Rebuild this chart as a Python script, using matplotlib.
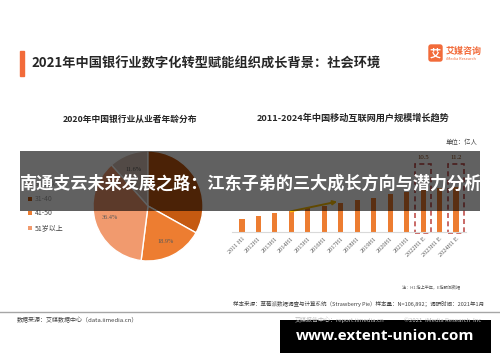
import matplotlib
matplotlib.use('agg')
import matplotlib.pyplot as plt
from matplotlib.patches import Rectangle, FancyBboxPatch
import numpy as np

plt.rcParams['font.family'] = ['Noto Sans CJK SC', 'DejaVu Sans']

# left chart: age distribution of bank employees (2020)
age_groups = ['30岁以下', '31-40', '41-50', '51岁以上']
age_share = [11.6, 33.1, 18.9, 36.4]
age_colors = ['#d8c4b8', '#c55a11', '#ed7d31', '#f19a6e']

# right chart: mobile internet users, 亿人
periods = ['2011 H1', '2012H1', '2013H1', '2014H1', '2015H1', '2016H1', '2017H1',
           '2018H1', '2019H1', '2020H1', '2021H1', '2022H1 E', '2023H1 E', '2024H1 E']
users = [3.18, 3.88, 4.64, 5.27, 5.94, 6.56, 7.24, 7.88, 8.47, 9.6, 10.07, 10.5, 10.9, 11.2]
boxed = ['2022H1 E', '2024H1 E']

W, H = 500, 362
fig = plt.figure(figsize=(5, 3.62), dpi=100)


def px_axes(x0, y0, x1, y1):
    # pixel box with top-left origin -> figure axes
    return fig.add_axes([x0 / W, 1 - y1 / H, (x1 - x0) / W, (y1 - y0) / H])


# ---- pie ----
ax_pie = px_axes(93, 151, 203, 261)
wedges, _, autotexts = ax_pie.pie(
    age_share, colors=age_colors, startangle=90 + age_share[0] * 3.6, counterclock=False,
    autopct='%.1f%%', pctdistance=0.72,
    wedgeprops=dict(edgecolor='white', linewidth=1),
    textprops=dict(fontsize=4.5, color='#595959', family='Liberation Serif'))
ax_pie.set_xlim(-1, 1)
ax_pie.set_ylim(-1, 1)

# ---- bars ----
ax_bar = px_axes(232, 152, 466, 232)
x = np.arange(len(periods))
ax_bar.bar(x, users, width=0.32, color='#ed7d31')
ax_bar.set_xlim(-0.6, 13.6)
ax_bar.set_ylim(0, 20)
ax_bar.set_xticks(x, periods, rotation=45, ha='right', rotation_mode='anchor',
                  fontsize=4.5, color='#595959', family='Liberation Serif')
ax_bar.tick_params(length=0, pad=3)
ax_bar.set_yticks([])
for s in ['top', 'left', 'right']:
    ax_bar.spines[s].set_visible(False)
ax_bar.spines['bottom'].set_color('#d9d9d9')
ax_bar.patch.set_alpha(0)

for p in boxed:
    i = periods.index(p)
    ax_bar.add_patch(Rectangle((i - 0.48, -0.2), 0.96, 17.2, fill=False, ec='#c0504d',
                               lw=1.2, ls=(0, (3, 2)), clip_on=False))
    ax_bar.text(i, 17.9, f'{users[i]}', ha='center', va='bottom', fontsize=4.8,
                color='#843c0c', family='Liberation Serif')

ax_bar.annotate('', xy=(5.95, users[6] + 0.5), xytext=(2.8, users[3] - 0.25),
                arrowprops=dict(arrowstyle='-|>', color='#ffc000', lw=1.4, mutation_scale=6))

# ---- canvas for text and decorations ----
ax_c = fig.add_axes([0, 0, 1, 1])
ax_c.set_xlim(0, W)
ax_c.set_ylim(H, 0)
ax_c.axis('off')
ax_c.patch.set_alpha(0)
ax_c.set_zorder(10)

ax_c.add_patch(Rectangle((20, 51), 4, 25, color='#f26b3a'))
ax_c.text(31, 64, '2021年中国银行业数字化转型赋能组织成长背景：社会环境', fontsize=9.5,
          fontweight='bold', va='center', color='#262626')

# logo
ax_c.add_patch(FancyBboxPatch((429, 45), 13, 16, boxstyle='round,pad=0,rounding_size=2',
                              color='#f26b3a'))
ax_c.text(435.5, 53.5, '艾', color='white', fontsize=8, fontweight='bold', ha='center', va='center')
ax_c.text(446, 51, '艾媒咨询', color='#f26b3a', fontsize=6.5, fontweight='bold', va='center')
ax_c.text(446, 59.5, 'iMedia Research', color='#f26b3a', fontsize=2.8, va='center')

ax_c.text(130, 119, '2020年中国银行业从业者年龄分布', fontsize=6.3, fontweight='bold',
          ha='center', va='center', color='#262626')
ax_c.text(257, 118, '2011-2024年中国移动互联网用户规模增长趋势', fontsize=6.6, fontweight='bold',
          va='center', color='#262626')
ax_c.text(478, 142, '单位：亿人', fontsize=4.6, ha='right', va='center', color='#404040')

# legend
for k, (g, c) in enumerate(zip(age_groups, age_colors)):
    yy = 184 + k * 14.7
    ax_c.scatter(30, yy, marker='s', s=6, color=c, lw=0)
    ax_c.text(35, yy, g, fontsize=5, va='center', color='#404040')

# notes and footer
ax_c.text(460, 287, '注：H1 指上半年，E指预测数据', fontsize=3, ha='right', va='center', color='#595959')
ax_c.text(484, 304, '样本来源：草莓派数据调查与计算系统（Strawberry Pie）样本量：N=106,892；调研时间：2021年1月',
          fontsize=4, ha='right', va='center', color='#404040')
ax_c.plot([0, W], [312, 312], color='#a6a6a6', lw=1)
ax_c.text(17, 320, '数据来源：艾媒数据中心（data.iimedia.cn）', fontsize=4.3, va='center', color='#404040')
ax_c.text(295, 320, '艾媒报告中心：report.iimedia.cn', fontsize=4.3, va='center', color='#bfbfbf')
ax_c.text(481, 320, '©2021  iMedia Research  Inc', fontsize=4.3, ha='right', va='center', color='#bfbfbf')

# overlay banner
ax_c.add_patch(Rectangle((20, 151), 460, 60, color='black', alpha=0.62, lw=0))
ax_c.text(250, 184, '南通支云未来发展之路：江东子弟的三大成长方向与潜力分析', color='white',
          fontsize=12.3, fontweight='bold', ha='center', va='center')

# watermark box
ax_c.add_patch(Rectangle((280, 320), 211, 33, color='black', lw=0))
ax_c.text(385.5, 336, 'www.extent-union.com', color='white', fontsize=11, fontweight='bold',
          ha='center', va='center', family=['Open Sans', 'DejaVu Sans'])

fig.savefig('out.png', dpi=100)
